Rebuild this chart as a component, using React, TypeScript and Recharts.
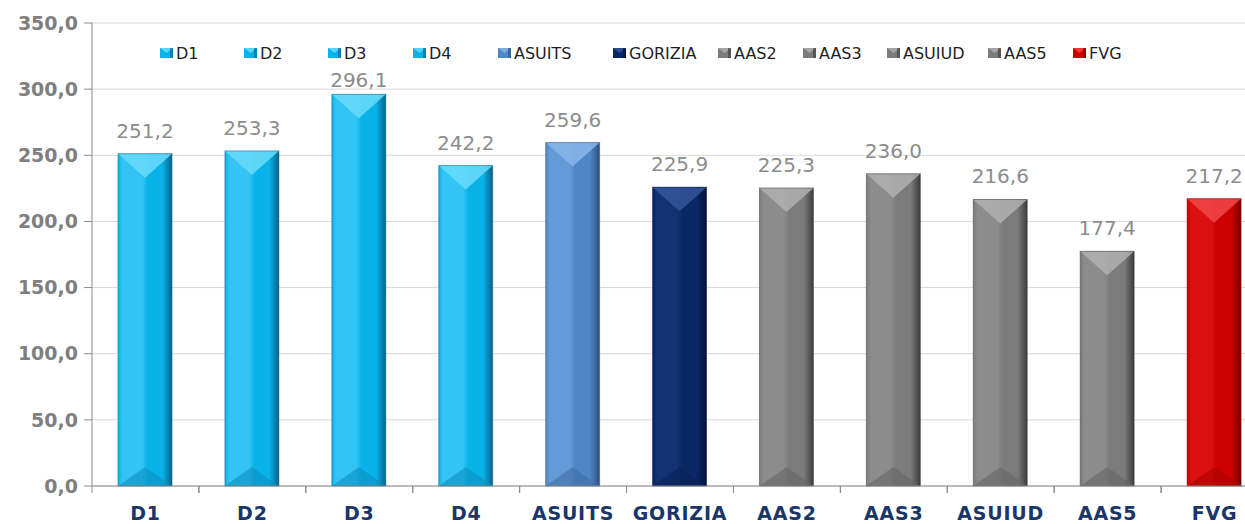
import { BarChart, Bar, XAxis, YAxis, CartesianGrid, Cell, LabelList } from "recharts";

const categories = ["D1", "D2", "D3", "D4", "ASUITS", "GORIZIA", "AAS2", "AAS3", "ASUIUD", "AAS5", "FVG"];
const values = [251.2, 253.3, 296.1, 242.2, 259.6, 225.9, 225.3, 236.0, 216.6, 177.4, 217.2];
const yTicks = [0, 50, 100, 150, 200, 250, 300, 350];

// palette groups: cyan districts, ASUITS, Gorizia, grey AAS, red regional total
const PALETTES = {
  cyan: { base: "#0ab2ea", light: "#32c4f4", top: "#6adcfc", dark: "#04628a", bottom: "#0a8fbf" },
  steel: { base: "#4f86c6", light: "#659ad8", top: "#8ab6ea", dark: "#2a5080", bottom: "#3f6ea6" },
  navy: { base: "#0b2764", light: "#123274", top: "#34569a", dark: "#041238", bottom: "#0a2255" },
  grey: { base: "#7b7b7b", light: "#8c8c8c", top: "#b0b0b0", dark: "#3c3c3c", bottom: "#666666" },
  red: { base: "#cc0000", light: "#dc1010", top: "#f04848", dark: "#740000", bottom: "#a80000" },
};
const categoryPalette = ["cyan", "cyan", "cyan", "cyan", "steel", "navy", "grey", "grey", "grey", "grey", "red"];

// legend slot x positions (Excel spaces them unevenly)
const LEGEND_X = [160, 244, 328, 413, 498, 613, 718, 803, 887, 988, 1073];

const data = categories.map((name, i) => ({ name, value: values[i], palette: categoryPalette[i] }));

const fmt = (v: number) => v.toFixed(1).replace(".", ",");

function BevelBar(props: any) {
  const { x, y, width, height, index, payload } = props;
  if (!height || height <= 0) return null;
  const p = PALETTES[(payload?.palette ?? categoryPalette[index]) as keyof typeof PALETTES];
  const id = `bevel-${index}`;
  const topDepth = Math.min(24, height / 2);
  const botDepth = Math.min(19, height / 2);
  return (
    <g>
      <defs>
        <linearGradient id={id} x1="0" y1="0" x2="1" y2="0">
          <stop offset="0%" stopColor={p.base} />
          <stop offset="8%" stopColor={p.light} />
          <stop offset="45%" stopColor={p.light} />
          <stop offset="55%" stopColor={p.base} />
          <stop offset="82%" stopColor={p.base} />
          <stop offset="100%" stopColor={p.dark} />
        </linearGradient>
      </defs>
      <rect x={x} y={y} width={width} height={height} fill={`url(#${id})`} />
      <polygon
        points={`${x},${y} ${x + width},${y} ${x + width / 2},${y + topDepth}`}
        fill={p.top}
        opacity={0.85}
      />
      <polygon
        points={`${x},${y + height} ${x + width},${y + height} ${x + width / 2},${y + height - botDepth}`}
        fill={p.bottom}
        opacity={0.6}
      />
      <rect x={x} y={y} width={width} height={height} fill="none" stroke={p.dark} strokeOpacity={0.5} strokeWidth={1} />
    </g>
  );
}

// value label above the bar; kept clear of the legend row like Excel does
function ValueLabel(props: any) {
  const { x, y, width, value } = props;
  const baseline = Math.max(y - 16, 87);
  return (
    <text
      x={x + width / 2}
      y={baseline}
      textAnchor="middle"
      fill="#8c8c8c"
      fontFamily="DejaVu Sans"
      fontSize={20}
    >
      {fmt(Number(value))}
    </text>
  );
}

function CategoryTick(props: any) {
  const { x, y, payload } = props;
  const half = payload?.offset ?? 53.4;
  return (
    <g>
      <line x1={x - half} y1={y - 8} x2={x - half} y2={y - 1} stroke="#8a8a8a" />
      <line x1={x + half} y1={y - 8} x2={x + half} y2={y - 1} stroke="#8a8a8a" />
      <text
        x={x}
        y={y + 26}
        textAnchor="middle"
        fill="#1a3668"
        fontFamily="DejaVu Sans"
        fontWeight="bold"
        fontSize={19}
        letterSpacing={0.8}
      >
        {payload.value}
      </text>
    </g>
  );
}

function LegendIcon({ palette }: { palette: keyof typeof PALETTES }) {
  const p = PALETTES[palette];
  return (
    <svg width="13" height="10" style={{ display: "block" }}>
      <rect x="0" y="0" width="13" height="10" fill={p.base} />
      <polygon points="0,0 13,0 6.5,5" fill={p.top} opacity={0.8} />
      <rect x="10" y="0" width="3" height="10" fill={p.dark} opacity={0.6} />
    </svg>
  );
}

export default function App() {
  return (
    <div
      style={{
        position: "fixed",
        top: 0,
        left: 0,
        width: 1245,
        height: 524,
        overflow: "hidden",
        background: "#fff",
      }}
    >
      <BarChart width={1268} height={524} data={data} margin={{ top: 23, right: 0, left: 0, bottom: 0 }}>
        <CartesianGrid vertical={false} stroke="#d9d9d9" />
        <XAxis
          dataKey="name"
          height={38}
          axisLine={{ stroke: "#8a8a8a" }}
          tickLine={false}
          tick={<CategoryTick />}
          interval={0}
        />
        <YAxis
          width={92}
          domain={[0, 350]}
          ticks={yTicks}
          interval={0}
          tickFormatter={fmt}
          axisLine={{ stroke: "#8a8a8a" }}
          tickLine={{ stroke: "#8a8a8a" }}
          tickSize={8}
          tickMargin={6}
          tick={{ fill: "#7f7f7f", fontFamily: "DejaVu Sans", fontWeight: "bold", fontSize: 19 }}
        />
        <Bar dataKey="value" barSize={54} shape={<BevelBar />} isAnimationActive={false}>
          {data.map((d) => (
            <Cell key={d.name} fill={PALETTES[d.palette as keyof typeof PALETTES].base} />
          ))}
          <LabelList dataKey="value" content={<ValueLabel />} />
        </Bar>
      </BarChart>

      {/* legend sits inside the plot area, as in the original Excel chart */}
      {categories.map((name, i) => (
        <div
          key={name}
          style={{
            position: "absolute",
            left: LEGEND_X[i],
            top: 43,
            height: 20,
            display: "flex",
            alignItems: "center",
            gap: 3,
            fontFamily: "DejaVu Sans",
            fontSize: 16,
            color: "#1e1e1e",
            whiteSpace: "nowrap",
          }}
        >
          <LegendIcon palette={categoryPalette[i] as keyof typeof PALETTES} />
          <span>{name}</span>
        </div>
      ))}
    </div>
  );
}
